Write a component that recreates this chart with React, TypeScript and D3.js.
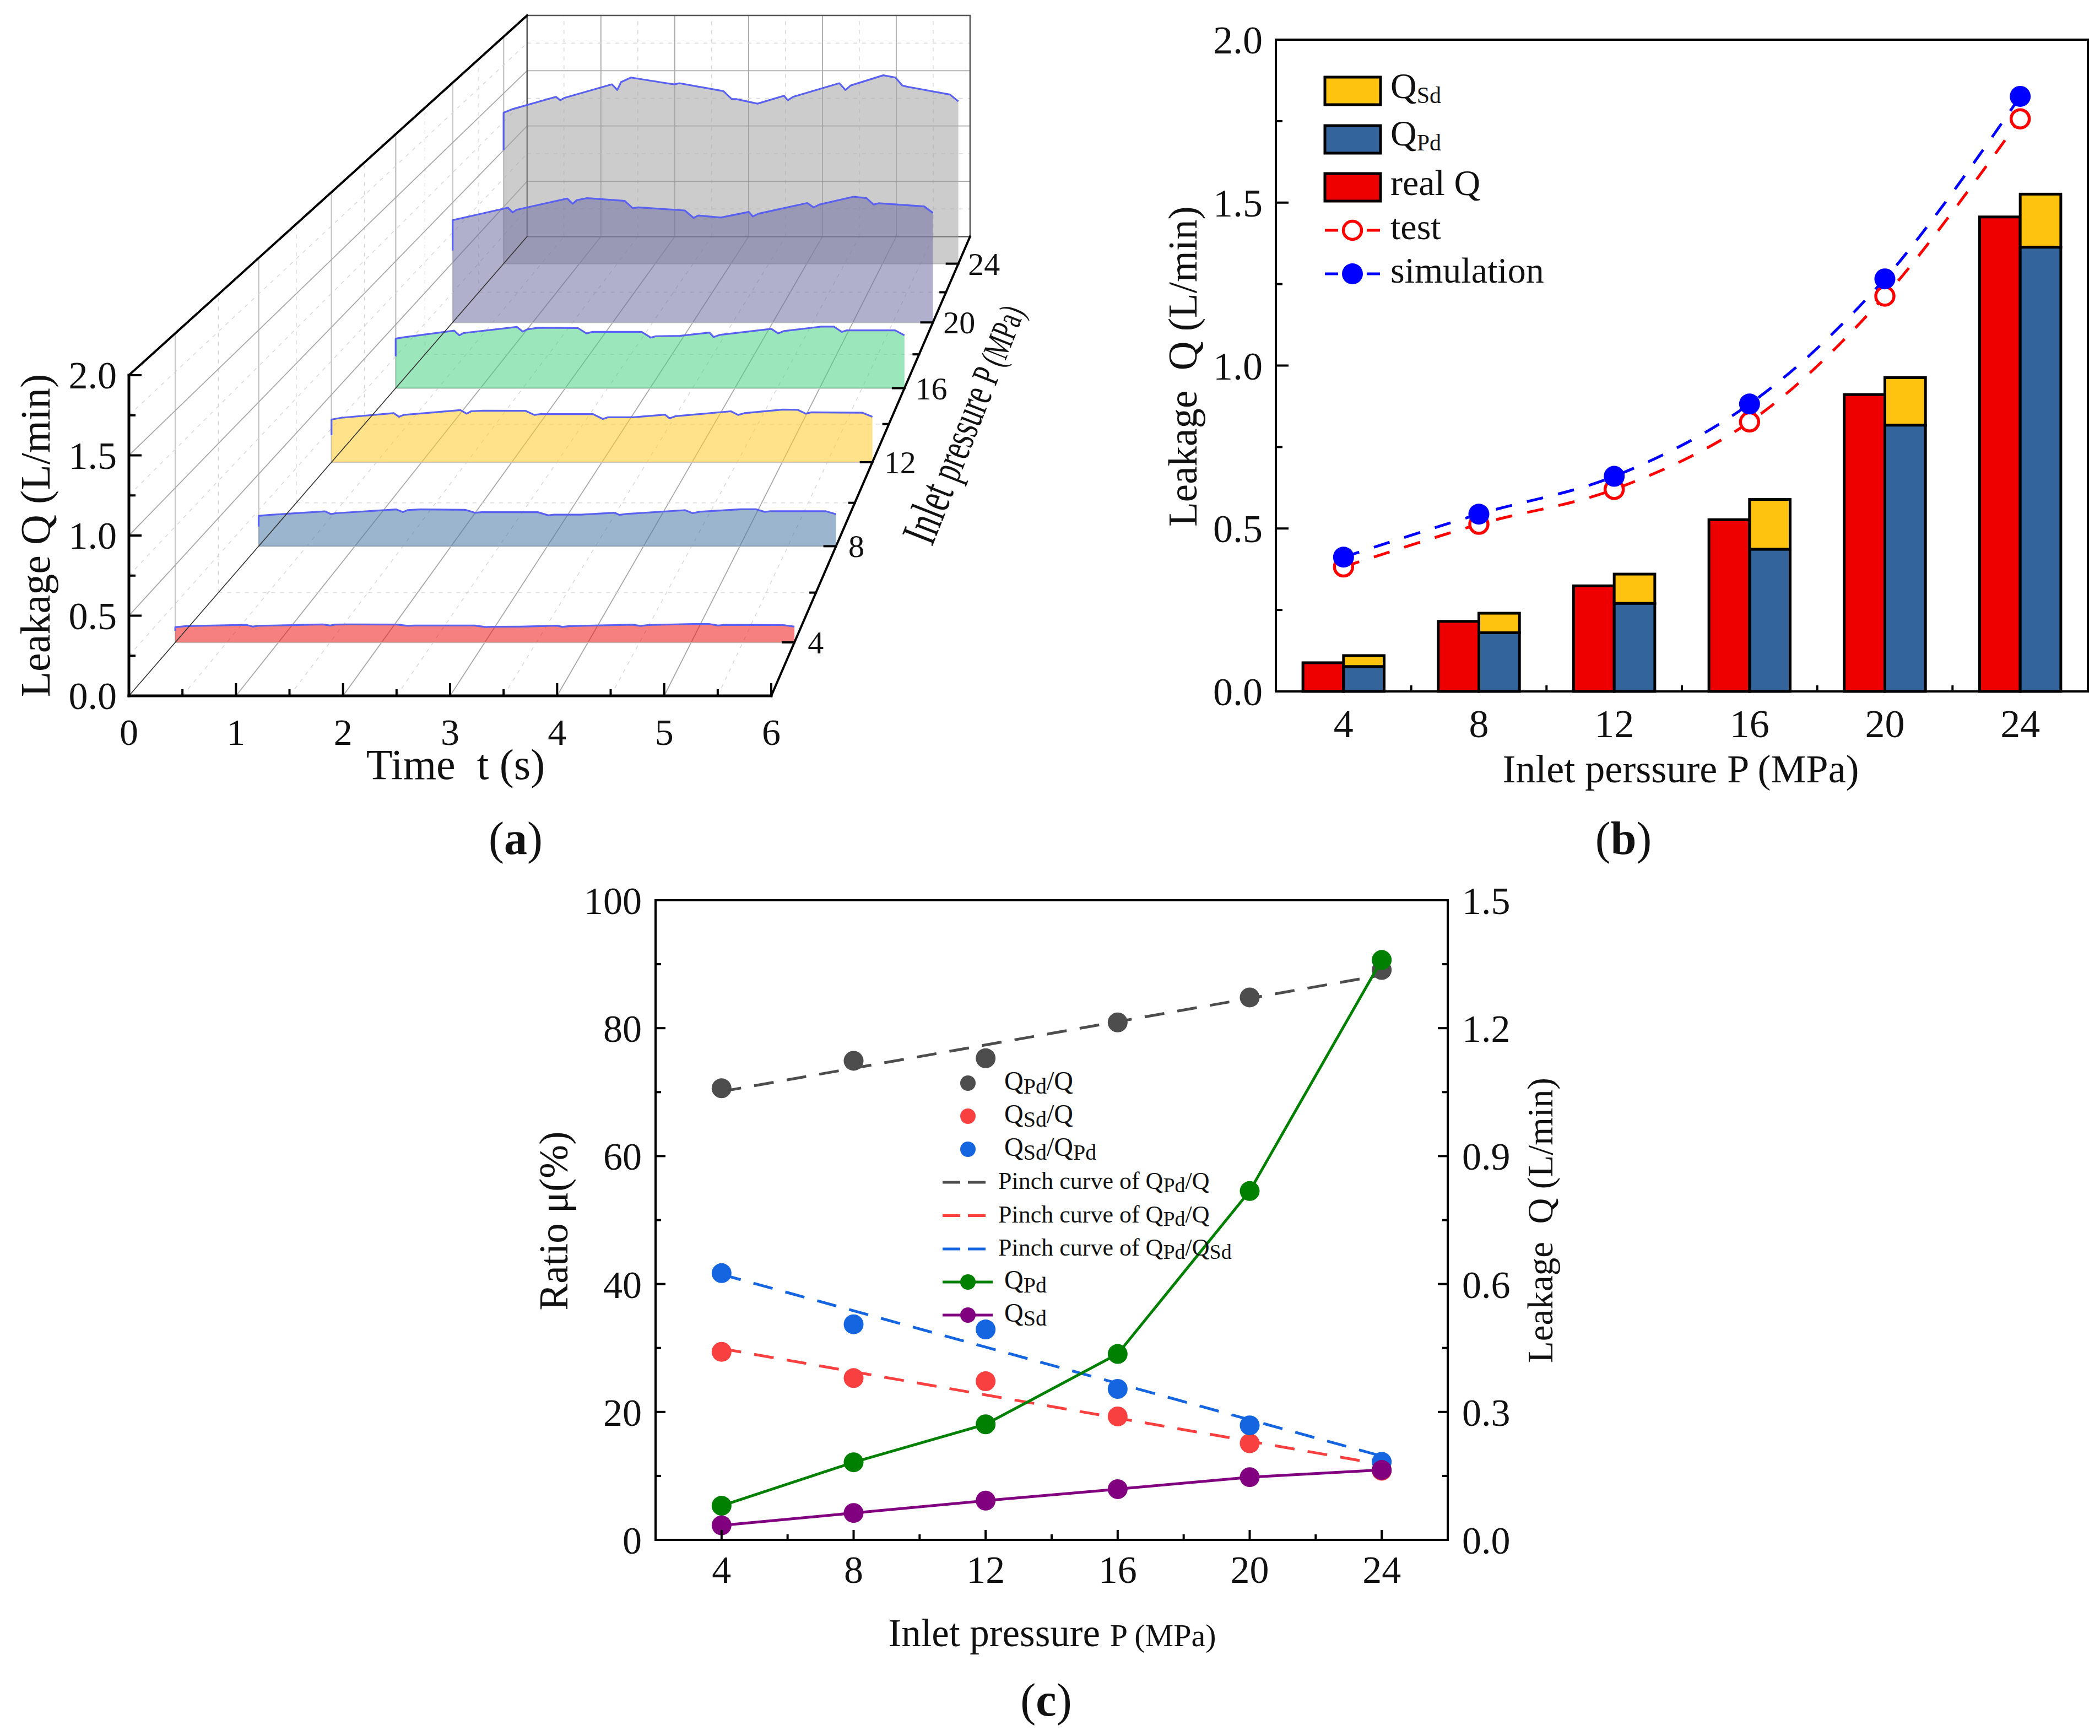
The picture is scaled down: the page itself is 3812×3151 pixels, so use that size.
import * as d3 from "d3";

const serif = "'Liberation Serif', serif";

// (a) leakage over time, one sheet per inlet pressure
const timePoints = [0, 0.11, 0.69, 0.75, 0.8, 1.43, 1.5, 1.55, 1.68, 2.15, 2.25, 2.32, 2.9, 3.01, 3.07, 3.35, 3.7, 3.75, 3.82, 4.43, 4.51, 4.58, 5.01, 5.17, 5.26, 5.32, 5.89, 6];
const leak24 = [1.33, 1.36, 1.47, 1.44, 1.46, 1.58, 1.53, 1.6, 1.64, 1.59, 1.58, 1.59, 1.52, 1.45, 1.45, 1.41, 1.48, 1.44, 1.47, 1.59, 1.53, 1.57, 1.66, 1.64, 1.57, 1.56, 1.49, 1.43];
const leak20 = [0.853, 0.87, 0.957, 0.918, 0.94, 1.034, 0.99, 1.02, 1.037, 1.014, 0.953, 0.96, 0.934, 0.872, 0.892, 0.875, 0.922, 0.884, 0.907, 0.996, 0.96, 0.983, 1.049, 1.037, 0.983, 0.994, 0.968, 0.914];
const leak16 = [0.39, 0.402, 0.453, 0.416, 0.434, 0.482, 0.445, 0.463, 0.476, 0.473, 0.431, 0.443, 0.443, 0.398, 0.409, 0.412, 0.438, 0.402, 0.419, 0.467, 0.431, 0.45, 0.484, 0.484, 0.443, 0.455, 0.455, 0.416];
const leak12 = [0.316, 0.329, 0.363, 0.336, 0.35, 0.386, 0.359, 0.377, 0.382, 0.381, 0.35, 0.356, 0.356, 0.32, 0.333, 0.333, 0.352, 0.325, 0.341, 0.377, 0.35, 0.363, 0.39, 0.388, 0.359, 0.369, 0.366, 0.336];
const leak8 = [0.21, 0.217, 0.242, 0.223, 0.229, 0.255, 0.237, 0.251, 0.255, 0.252, 0.232, 0.236, 0.236, 0.214, 0.219, 0.219, 0.232, 0.217, 0.224, 0.25, 0.229, 0.239, 0.256, 0.256, 0.238, 0.243, 0.243, 0.222];
const leak4 = [0.098, 0.105, 0.113, 0.102, 0.107, 0.116, 0.109, 0.115, 0.116, 0.115, 0.107, 0.109, 0.109, 0.099, 0.101, 0.102, 0.108, 0.1, 0.105, 0.114, 0.106, 0.112, 0.119, 0.119, 0.109, 0.113, 0.112, 0.102];
const sheetPressures = [24, 20, 16, 12, 8, 4];
const sheetLeaks = [leak24, leak20, leak16, leak12, leak8, leak4];
const sheetStarts = [1.0, 0.6, 0.25, 0.2, 0.136, 0.075];
const sheetColors = ["#a2a2a2", "#6f6fa2", "#4bd285", "#ffca28", "#4979a8", "#ef1818"];

// (b) bars and curves
const pressures = [4, 8, 12, 16, 20, 24];
const realQ = [0.088, 0.215, 0.324, 0.527, 0.911, 1.456];
const qPd = [0.076, 0.18, 0.27, 0.436, 0.817, 1.363];
const qTotal = [0.11, 0.24, 0.36, 0.589, 0.963, 1.526];
const testQ = [0.382, 0.513, 0.62, 0.827, 1.213, 1.757];
const simQ = [0.412, 0.544, 0.66, 0.882, 1.266, 1.826];

// (c) ratios and leakages
const ratioPdQ = [70.6, 74.9, 75.3, 80.9, 84.8, 89.1];
const ratioSdQ = [29.4, 25.3, 24.8, 19.3, 15.1, 10.8];
const ratioSdPd = [41.7, 33.7, 32.9, 23.6, 17.9, 12.2];
const fitPdQ = [70.1, 88.3];
const fitSdQ = [29.9, 11.8];
const fitSdPd = [41.5, 13.1];
const leakPd = [0.08, 0.182, 0.271, 0.436, 0.818, 1.36];
const leakSd = [0.034, 0.063, 0.092, 0.119, 0.147, 0.164];

const range = (a: number, b: number, step: number) => d3.range(a, b + step / 2, step);

// Perspective box of panel (a)
const vanishX = 2563;
const vanishY = -1423;
const depth = d3.scaleLinear().domain([2, 26]).range([0, 1]);
const frontT = d3.scaleLinear().domain([0, 6]).range([234, 1400]);
const frontQ = d3.scaleLinear().domain([0, 2]).range([1263, 681]);
const shrink = (p: number) => 1 / (1 + 0.45 * depth(p));
const project = (t: number, q: number, p: number): [number, number] => {
  const s = shrink(p);
  return [vanishX + (frontT(t) - vanishX) * s, vanishY + (frontQ(q) - vanishY) * s];
};

const Seg = ({ a, b, ...rest }: any) => (
  <line x1={a[0]} y1={a[1]} x2={b[0]} y2={b[1]} {...rest} />
);

const majorGrid = { stroke: "#a8a8a8", strokeWidth: 1.8 };
const minorGrid = { stroke: "#d8d8d8", strokeWidth: 1.5, strokeDasharray: "7 9" };

const PanelA = () => {
  const tLines = range(0.5, 5.5, 0.5);
  const pLines = range(4, 24, 2);
  const qLines = range(0.25, 1.75, 0.25);
  const isMajorP = (p: number) => p % 4 === 0;
  const isMajorT = (t: number) => Number.isInteger(t);
  const isMajorQ = (q: number) => q % 0.5 === 0;

  return (
    <g>
      {tLines.map((t) => (
        <g key={t} {...(isMajorT(t) ? majorGrid : minorGrid)}>
          <Seg a={project(t, 0, 2)} b={project(t, 0, 26)} />
          <Seg a={project(t, 0, 26)} b={project(t, 2, 26)} />
        </g>
      ))}
      {pLines.map((p) => (
        <g key={p} {...(isMajorP(p) ? { stroke: "#c6c6c6", strokeWidth: 2.5 } : minorGrid)}>
          <Seg a={project(0, 0, p)} b={project(6, 0, p)} />
          <Seg a={project(0, 0, p)} b={project(0, 2, p)} />
        </g>
      ))}
      {qLines.map((q) => (
        <g key={q} {...(isMajorQ(q) ? majorGrid : minorGrid)}>
          <Seg a={project(0, q, 2)} b={project(0, q, 26)} />
          <Seg a={project(0, q, 26)} b={project(6, q, 26)} />
        </g>
      ))}

      {/* back box */}
      <path
        d={d3.line()([project(0, 0, 26), project(0, 2, 26), project(6, 2, 26), project(6, 0, 26), project(0, 0, 26)]) ?? undefined}
        fill="none"
        stroke="#555"
        strokeWidth={2.5}
      />

      {sheetPressures.map((p, i) => {
        const top = timePoints.map((t, j) => project(t, sheetLeaks[i][j], p));
        const area = [project(0, 0, p), ...top, project(6, 0, p)];
        const line = [project(0, sheetStarts[i], p), ...top];
        return (
          <g key={p}>
            <path d={d3.line()(area) + "Z"} fill={sheetColors[i]} fillOpacity={0.55} />
            <path d={d3.line()(line) ?? undefined} fill="none" stroke="#5a60f0" strokeWidth={3.2} strokeLinejoin="round" />
          </g>
        );
      })}

      {/* front axes */}
      <g stroke="#000" fill="none" strokeLinecap="square">
        <Seg a={project(0, 0, 2)} b={project(0, 0, 26)} strokeWidth={1.6} stroke="#333" />
        <Seg a={project(0, 2, 2)} b={project(0, 2, 26)} strokeWidth={4} />
        <Seg a={project(6, 0, 2)} b={project(6, 0, 26)} strokeWidth={4} />
        <Seg a={project(0, 0, 2)} b={project(0, 2, 2)} strokeWidth={5} />
        <Seg a={project(0, 0, 2)} b={project(6, 0, 2)} strokeWidth={5} />
        {range(0, 6, 0.5).map((t) => {
          const [x, y] = project(t, 0, 2);
          return <line key={t} x1={x} x2={x} y1={y} y2={y - (isMajorT(t) ? 21 : 10)} strokeWidth={4} />;
        })}
        {range(0, 2, 0.25).map((q) => {
          const [x, y] = project(0, q, 2);
          return <line key={q} x1={x} x2={x + (isMajorQ(q) ? 21 : 10)} y1={y} y2={y} strokeWidth={4} />;
        })}
        {range(4, 24, 2).map((p) => {
          const [x, y] = project(6, 0, p);
          return <line key={p} x1={x} x2={x - (isMajorP(p) ? 21 : 10)} y1={y} y2={y} strokeWidth={4} />;
        })}
      </g>

      <g fontFamily={serif} fill="#111">
        <g fontSize={68} textAnchor="middle">
          {range(0, 6, 1).map((t) => (
            <text key={t} x={frontT(t)} y={1352}>{t}</text>
          ))}
        </g>
        <g fontSize={70} textAnchor="end">
          {range(0, 2, 0.5).map((q) => (
            <text key={q} x={212} y={frontQ(q) + 24}>{q.toFixed(1)}</text>
          ))}
        </g>
        <g fontSize={58}>
          {pressures.map((p) => {
            const [x, y] = project(6, 0, p);
            return <text key={p} x={x + 25 * shrink(p)} y={y + 20}>{p}</text>;
          })}
        </g>
        <text x={827} y={1414} fontSize={78} textAnchor="middle" style={{ whiteSpace: "pre" }}>Time  t (s)</text>
        <text transform="translate(90,972) rotate(-90)" fontSize={76} textAnchor="middle">Leakage Q (L/min)</text>
        <text transform="translate(1692,993) rotate(-68.5) scale(0.66,1)">
          <tspan fontSize={90}>Inlet </tspan>
          <tspan fontSize={80}>pressure </tspan>
          <tspan fontSize={70}>P </tspan>
          <tspan fontSize={66}>(MPa)</tspan>
        </text>
      </g>
    </g>
  );
};

const subStyle = (size: number) => ({ fontSize: size });

const Q = ({ sub, x, y, size, subSize, tail }: any) => (
  <text x={x} y={y} fontSize={size}>
    Q<tspan style={subStyle(subSize)} dy={size * 0.14}>{sub}</tspan>
    {tail && <tspan dy={-size * 0.14}>{tail}</tspan>}
  </text>
);

const PanelB = () => {
  const left = 2316, right = 3790, top = 72, bottom = 1255;
  const x = d3.scaleLinear().domain([2, 26]).range([left, right]);
  const y = d3.scaleLinear().domain([0, 2]).range([bottom, top]);
  const barW = x(5.2) - x(4);
  const curve = d3.line<number>().x((_, i) => x(pressures[i])).y((d) => y(d)).curve(d3.curveCatmullRom);
  const barStroke = { stroke: "#000", strokeWidth: 5 };
  const legendY = [140, 228, 315];
  const legendFill = ["#fdc30f", "#33659c", "#ee0000"];
  const red = "#ff0000";
  const blue = "#0000ff";

  return (
    <g>
      {pressures.map((p, i) => (
        <g key={p} {...barStroke}>
          <rect x={x(p) - barW} y={y(realQ[i])} width={barW} height={bottom - y(realQ[i])} fill="#ee0000" />
          <rect x={x(p)} y={y(qTotal[i])} width={barW} height={y(qPd[i]) - y(qTotal[i])} fill="#fdc30f" />
          <rect x={x(p)} y={y(qPd[i])} width={barW} height={bottom - y(qPd[i])} fill="#33659c" />
        </g>
      ))}
      <path d={curve(testQ) ?? undefined} fill="none" stroke={red} strokeWidth={5} strokeDasharray="30 28" />
      <path d={curve(simQ) ?? undefined} fill="none" stroke={blue} strokeWidth={5} strokeDasharray="30 28" />
      {pressures.map((p, i) => (
        <g key={p}>
          <circle cx={x(p)} cy={y(testQ[i])} r={16.5} fill="#fff" stroke={red} strokeWidth={5.5} />
          <circle cx={x(p)} cy={y(simQ[i])} r={19} fill={blue} />
        </g>
      ))}

      <rect x={left} y={top} width={right - left} height={bottom - top} fill="none" stroke="#000" strokeWidth={4} />
      <g stroke="#000" strokeWidth={4}>
        {range(6, 22, 4).map((p) => (
          <line key={p} x1={x(p)} x2={x(p)} y1={bottom} y2={bottom - 11} />
        ))}
        {range(0.25, 1.75, 0.25).map((q) => (
          <line key={q} x1={left} x2={left + (q % 0.5 === 0 ? 23 : 12)} y1={y(q)} y2={y(q)} />
        ))}
      </g>

      <g fontFamily={serif} fill="#111" fontSize={72}>
        <g textAnchor="middle">
          {pressures.map((p) => (
            <text key={p} x={x(p)} y={1338}>{p}</text>
          ))}
        </g>
        <g textAnchor="end">
          {range(0, 2, 0.5).map((q) => (
            <text key={q} x={2292} y={y(q) + 25}>{q.toFixed(1)}</text>
          ))}
        </g>
        <text x={3051} y={1420} textAnchor="middle">Inlet perssure P (MPa)</text>
        <text transform="translate(2172,665) rotate(-90)" textAnchor="middle" fontSize={73} style={{ whiteSpace: "pre" }}>Leakage  Q (L/min)</text>
      </g>

      {/* legend */}
      {legendY.map((ly, i) => (
        <rect key={ly} x={2405} y={ly} width={101} height={50} fill={legendFill[i]} {...barStroke} />
      ))}
      <g strokeWidth={5} strokeDasharray="24 14" fill="none">
        <line x1={2405} x2={2506} y1={418} y2={418} stroke={red} />
        <line x1={2405} x2={2506} y1={497} y2={497} stroke={blue} />
      </g>
      <circle cx={2455} cy={418} r={16.5} fill="#fff" stroke={red} strokeWidth={5.5} />
      <circle cx={2455} cy={497} r={19} fill={blue} />
      <g fontFamily={serif} fill="#111">
        <Q x={2524} y={178} size={66} subSize={42} sub="Sd" />
        <Q x={2524} y={264} size={66} subSize={42} sub="Pd" />
        <text x={2524} y={354} fontSize={66}>real Q</text>
        <text x={2524} y={434} fontSize={66}>test</text>
        <text x={2524} y={513} fontSize={66}>simulation</text>
      </g>
    </g>
  );
};

const PanelC = () => {
  const left = 1190, right = 2628, top = 1634, bottom = 2795;
  const x = d3.scaleLinear().domain([2, 26]).range([left, right]);
  const yRatio = d3.scaleLinear().domain([0, 100]).range([bottom, top]);
  const yLeak = d3.scaleLinear().domain([0, 1.5]).range([bottom, top]);
  const leakLine = d3.line<number>().x((_, i) => x(pressures[i])).y((d) => yLeak(d));

  const dotSets = [
    { values: ratioPdQ, fit: fitPdQ, color: "#4d4d4d" },
    { values: ratioSdQ, fit: fitSdQ, color: "#f94040" },
    { values: ratioSdPd, fit: fitSdPd, color: "#1565e0" },
  ];
  const lineSets = [
    { values: leakPd, color: "#008000" },
    { values: leakSd, color: "#800080" },
  ];
  const dash = "36 24";

  return (
    <g>
      {dotSets.map((s) => (
        <g key={s.color} fill={s.color}>
          {s.values.map((v, i) => (
            <circle key={i} cx={x(pressures[i])} cy={yRatio(v)} r={18} />
          ))}
          <line x1={x(4)} x2={x(24)} y1={yRatio(s.fit[0])} y2={yRatio(s.fit[1])} stroke={s.color} strokeWidth={5} strokeDasharray={dash} />
        </g>
      ))}
      {lineSets.map((s) => (
        <g key={s.color}>
          <path d={leakLine(s.values) ?? undefined} fill="none" stroke={s.color} strokeWidth={5} />
          {s.values.map((v, i) => (
            <circle key={i} cx={x(pressures[i])} cy={yLeak(v)} r={18} fill={s.color} />
          ))}
        </g>
      ))}

      <rect x={left} y={top} width={right - left} height={bottom - top} fill="none" stroke="#000" strokeWidth={4} />
      <g stroke="#000" strokeWidth={4}>
        {range(4, 24, 2).map((p) => (
          <line key={p} x1={x(p)} x2={x(p)} y1={bottom} y2={bottom - (p % 4 === 0 ? 18 : 10)} />
        ))}
        {range(10, 90, 10).map((r) => (
          <g key={r}>
            <line x1={left} x2={left + (r % 20 === 0 ? 18 : 10)} y1={yRatio(r)} y2={yRatio(r)} />
            <line x1={right} x2={right - (r % 20 === 0 ? 18 : 10)} y1={yRatio(r)} y2={yRatio(r)} />
          </g>
        ))}
      </g>

      <g fontFamily={serif} fill="#111" fontSize={70}>
        <g textAnchor="middle">
          {pressures.map((p) => (
            <text key={p} x={x(p)} y={2873}>{p}</text>
          ))}
        </g>
        <g textAnchor="end">
          {range(0, 100, 20).map((r) => (
            <text key={r} x={1165} y={yRatio(r) + 25}>{r}</text>
          ))}
        </g>
        {range(0, 1.5, 0.3).map((l) => (
          <text key={l} x={2654} y={yLeak(l) + 25}>{l.toFixed(1)}</text>
        ))}
        <text x={1910} y={2988} textAnchor="middle" fontSize={71}>
          Inlet pressure <tspan fontSize={58}>P (MPa)</tspan>
        </text>
        <text transform="translate(1030,2216) rotate(-90)" textAnchor="middle" fontSize={73}>Ratio μ(%)</text>
        <text transform="translate(2818,2215) rotate(-90)" textAnchor="middle" fontSize={65} style={{ whiteSpace: "pre" }}>Leakage  Q (L/min)</text>
      </g>

      {/* legend */}
      {dotSets.map((s, i) => (
        <circle key={s.color} cx={1757} cy={1966 + i * 60} r={14} fill={s.color} />
      ))}
      {dotSets.map((s, i) => (
        <line key={s.color} x1={1711} x2={1798} y1={2146 + i * 60.5} y2={2146 + i * 60.5} stroke={s.color} strokeWidth={5} strokeDasharray="32 14" />
      ))}
      {lineSets.map((s, i) => (
        <g key={s.color}>
          <line x1={1711} x2={1802} y1={2327 + i * 60} y2={2327 + i * 60} stroke={s.color} strokeWidth={5} />
          <circle cx={1757} cy={2327 + i * 60} r={14} fill={s.color} />
        </g>
      ))}
      <g fontFamily={serif} fill="#111">
        <Q x={1823} y={1978} size={48} subSize={40} sub="Pd" tail="/Q" />
        <Q x={1823} y={2038} size={48} subSize={40} sub="Sd" tail="/Q" />
        <text x={1823} y={2098} fontSize={48}>
          Q<tspan fontSize={40} dy={7}>Sd</tspan><tspan dy={-7}>/Q</tspan><tspan fontSize={40} dy={7}>Pd</tspan>
        </text>
        <text x={1812} y={2158} fontSize={44}>
          Pinch curve of Q<tspan fontSize={38} dy={6}>Pd</tspan><tspan dy={-6}>/Q</tspan>
        </text>
        <text x={1812} y={2219} fontSize={44}>
          Pinch curve of Q<tspan fontSize={38} dy={6}>Pd</tspan><tspan dy={-6}>/Q</tspan>
        </text>
        <text x={1812} y={2279} fontSize={44}>
          Pinch curve of Q<tspan fontSize={38} dy={6}>Pd</tspan><tspan dy={-6}>/Q</tspan><tspan fontSize={38} dy={6}>Sd</tspan>
        </text>
        <Q x={1823} y={2339} size={48} subSize={40} sub="Pd" />
        <Q x={1823} y={2399} size={48} subSize={40} sub="Sd" />
      </g>
    </g>
  );
};

const Caption = ({ x, y, label }: { x: number; y: number; label: string }) => (
  <text x={x} y={y} fontFamily={serif} fontSize={84} textAnchor="middle" fill="#111">
    (<tspan fontWeight="bold">{label}</tspan>)
  </text>
);

export default function App() {
  return (
    <svg
      width={3812}
      height={3151}
      viewBox="0 0 3812 3151"
      style={{ position: "absolute", left: 0, top: 0, background: "#fff" }}
    >
      <PanelA />
      <PanelB />
      <PanelC />
      <Caption x={936} y={1550} label="a" />
      <Caption x={2947} y={1550} label="b" />
      <Caption x={1899} y={3114} label="c" />
    </svg>
  );
}
